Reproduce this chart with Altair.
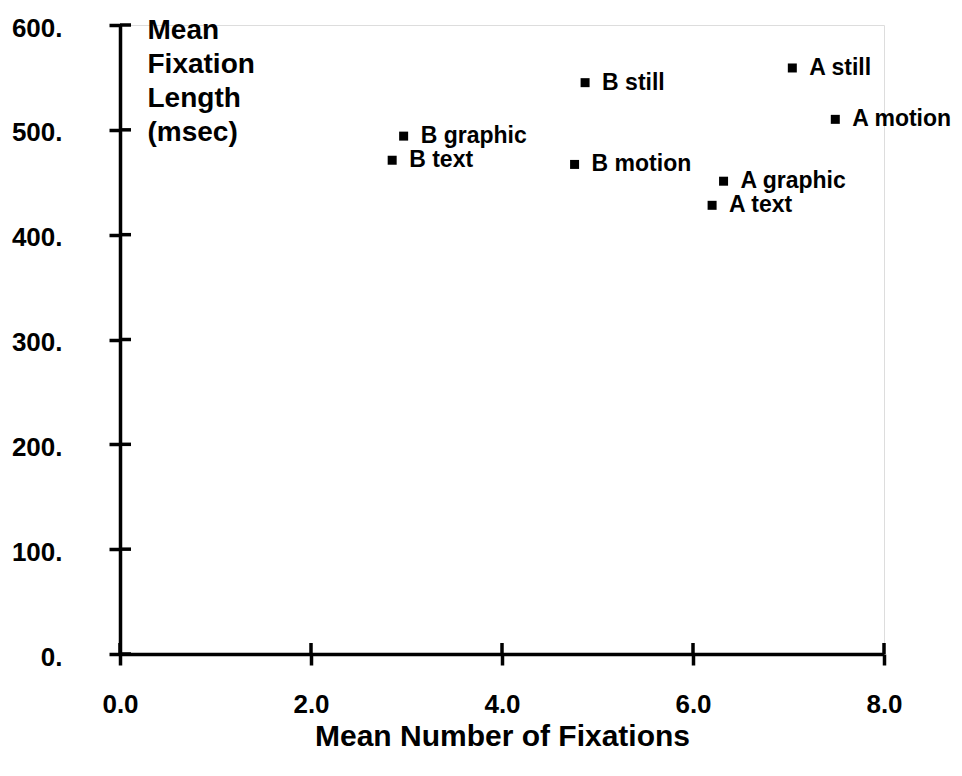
import altair as alt
import pandas as pd

# ---- data ----
labels = ["A still", "A motion", "A graphic", "A text",
          "B still", "B graphic", "B text", "B motion"]
fixations = [7.04, 7.49, 6.32, 6.20, 4.87, 2.97, 2.85, 4.76]
lengths = [559, 510, 451, 428, 545, 494, 471, 467]
x_ticks = [0, 2, 4, 6, 8]
y_ticks = [0, 100, 200, 300, 400, 500, 600]
x_title = "Mean Number of Fixations"
y_title = ["Mean", "Fixation", "Length", "(msec)"]

FONT = "Liberation Sans"
W, H = 764, 629

df = pd.DataFrame({"label": labels, "x": fixations, "y": lengths})
xt = pd.DataFrame({"v": x_ticks})
yt = pd.DataFrame({"v": y_ticks})

xscale = alt.Scale(domain=[0, 8], nice=False, zero=False)
yscale = alt.Scale(domain=[0, 600], nice=False)

x_axis = alt.Axis(
    values=x_ticks, format=".1f", title=x_title, grid=False, labelFlush=False,
    domainColor="black", domainWidth=3.5,
    tickColor="black", tickWidth=3.5, tickSize=11,
    labelFont=FONT, labelFontSize=26, labelColor="black", labelPadding=26,
    labelFontWeight="bold",
    titleFont=FONT, titleFontSize=30, titleFontWeight="bold", titleColor="black",
    titleY=67, titleBaseline="top",
)
y_axis = alt.Axis(
    values=y_ticks, labelExpr="format(datum.value, 'd') + '.'", title=y_title, grid=False,
    labelFlush=False,
    domainColor="black", domainWidth=3.5,
    tickColor="black", tickWidth=3.5, tickSize=11,
    labelFont=FONT, labelFontSize=26, labelColor="black", labelPadding=47,
    labelFontWeight="bold", labelOffset=3,
    titleFont=FONT, titleFontSize=28, titleFontWeight="bold", titleColor="black",
    titleAngle=0, titleAlign="left", titleBaseline="top",
    titleX=27, titleY=-9, titleLineHeight=34,
)

points = alt.Chart(df).mark_square(size=81, color="black", opacity=1, filled=True).encode(
    x=alt.X("x:Q", scale=xscale, axis=x_axis),
    y=alt.Y("y:Q", scale=yscale, axis=y_axis),
)
texts = alt.Chart(df).mark_text(
    align="left", baseline="middle", dx=17, font=FONT, fontSize=23,
    fontWeight="bold", color="black"
).encode(
    x=alt.X("x:Q", scale=xscale),
    y=alt.Y("y:Q", scale=yscale),
    text="label:N",
)
# inner halves of the cross ticks
ytick_in = alt.Chart(yt).mark_rule(color="black", strokeWidth=3.5).encode(
    y=alt.Y("v:Q", scale=yscale),
    x=alt.value(0), x2=alt.value(11),
)
xtick_in = alt.Chart(xt).mark_rule(color="black", strokeWidth=3.5).encode(
    x=alt.X("v:Q", scale=xscale),
    y=alt.value(H), y2=alt.value(H - 11),
)

chart = alt.layer(points, texts, ytick_in, xtick_in).properties(
    width=W, height=H,
    autosize=alt.AutoSizeParams(type="none"),
    padding={"left": 112, "top": 17, "right": 70, "bottom": 110},
).configure_view(stroke=None).configure(background="white")

chart.save("out.html", embed_options={"renderer": "svg", "actions": False})
